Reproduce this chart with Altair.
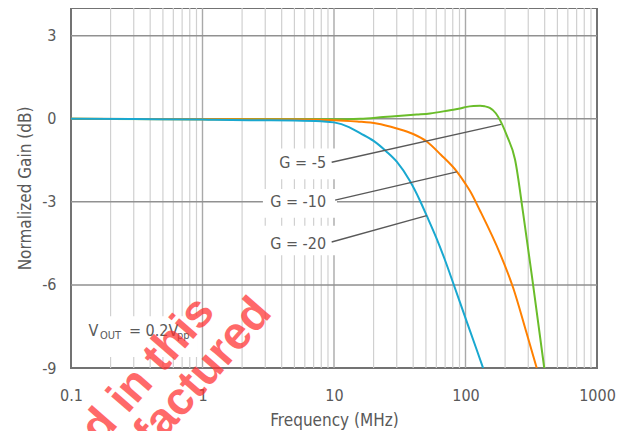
import altair as alt
import pandas as pd

FONT = "DejaVu Sans Condensed, Liberation Sans Narrow, DejaVu Sans, sans-serif"
TXT = "#595959"

# ---- data ----
series_names = ["G = -5", "G = -10", "G = -20"]
series_colors = ["#6abd2a", "#ff8000", "#19a8d0"]

f_g5 = [0.1, 1, 5, 10, 15.8, 23.7, 42.6, 53.7, 76.2, 90.8, 102, 115, 129, 140, 153, 170, 183, 206, 238, 275, 328, 397]
db_g5 = [0.0, -0.02, -0.02, -0.02, 0.0, 0.06, 0.15, 0.19, 0.31, 0.37, 0.43, 0.46, 0.47, 0.45, 0.39, 0.2, -0.05, -0.6, -1.47, -3.44, -6.06, -9.0]

f_g10 = [0.1, 1, 5, 10, 15, 21.1, 30, 40, 50.7, 65, 85.7, 100, 108, 129, 183, 231, 290, 348]
db_g10 = [0.0, -0.02, -0.03, -0.05, -0.1, -0.17, -0.35, -0.55, -0.82, -1.3, -1.9, -2.35, -2.6, -3.32, -4.87, -6.12, -7.7, -9.0]

f_g20 = [0.1, 0.3, 1, 2.3, 5, 8, 10, 13, 15.8, 20, 25, 30, 37.8, 45, 50.7, 60, 69.8, 80.7, 100, 120, 136]
db_g20 = [0.0, -0.01, -0.03, -0.05, -0.06, -0.09, -0.13, -0.3, -0.52, -0.8, -1.18, -1.55, -2.25, -2.95, -3.5, -4.3, -5.1, -5.94, -7.2, -8.26, -9.0]

x_ticks = [0.1, 1, 10, 100, 1000]
y_ticks = [-9, -6, -3, 0, 3]
y_grid = [-6, -3, 0, 3]
x_major = [1, 10, 100]
x_minor = [k * d for d in [0.1, 1, 10, 100] for k in range(2, 10)]

# annotation labels
lab_text = ["G = -5", "G = -10", "G = -20"]
lab_f = [8.7, 8.7, 8.7]
lab_db = [-1.60, -3.02, -4.51]
# leader lines (start, end)
lead_f1 = [9.6, 10.2, 9.6]
lead_db1 = [-1.57, -2.94, -4.45]
lead_f2 = [186, 85.7, 50.7]
lead_db2 = [-0.2, -1.92, -3.5]
# white label boxes
box_f1 = [3.1, 2.88, 2.88, 0.128]
box_f2 = [10.54, 10.54, 10.54, 0.92]
box_db1 = [-1.07, -2.54, -3.86, -7.13]
box_db2 = [-2.18, -3.57, -4.93, -8.6]

# V_OUT note pieces
note_text = ["V", "OUT", "= 0.2V", "pp"]
note_f = [0.1358, 0.1662, 0.276, 0.64]
note_db = [-7.846, -7.94, -7.846, -7.94]
note_size = [16, 11, 16, 11]

# watermark fragments
wm_text = ["d in this", "factured"]
wm_f = [0.385, 1.009]
wm_db = [-9.07, -9.18]

# ---- build ----
rows = []
for name, fs, dbs in [("G = -5", f_g5, db_g5), ("G = -10", f_g10, db_g10), ("G = -20", f_g20, db_g20)]:
    for f, d in zip(fs, dbs):
        rows.append({"g": name, "f": f, "db": d})
curves = pd.DataFrame(rows)

xs = alt.Scale(type="log", domain=[0.1, 1000], nice=False)
ys = alt.Scale(domain=[-9, 4], nice=False, zero=False)

xaxis = alt.Axis(values=x_ticks, format="~g", grid=False, domain=False, ticks=False, tickSize=0,
                 labelPadding=32, labelBaseline="alphabetic", labelFlush=False, labelFontSize=16,
                 titleFontSize=17, titleY=57, titleBaseline="alphabetic")
yaxis = alt.Axis(values=y_ticks, labelExpr="'' + datum.value", grid=False, domain=False, ticks=False,
                 tickSize=0, labelPadding=15, labelFontSize=16, titleFontSize=17,
                 titleX=-46, titleY=180, titleBaseline="middle", titleAngle=270)


def X(field):
    return alt.X(field, type="quantitative", scale=xs, axis=xaxis, title="Frequency (MHz)")


def Y(field):
    return alt.Y(field, type="quantitative", scale=ys, axis=yaxis, title="Normalized Gain (dB)")


minor = alt.Chart(pd.DataFrame({"f": x_minor})).mark_rule(color="#d0d0d0", strokeWidth=1.2).encode(
    x=X("f")
)

major = alt.Chart(pd.DataFrame({"f": x_major})).mark_rule(color="#a9a9a9", strokeWidth=1.4).encode(
    x=X("f")
)

ygrid = alt.Chart(pd.DataFrame({"g": y_grid})).mark_rule(color="#919191", strokeWidth=1.5).encode(
    y=Y("g")
)

boxes = alt.Chart(pd.DataFrame({"x1": box_f1, "x2": box_f2, "y1": box_db1, "y2": box_db2})).mark_rect(
    color="white").encode(
    x=X("x1"), x2="x2:Q", y=Y("y1"), y2="y2:Q"
)

lines = alt.Chart(curves).mark_line(strokeWidth=2, interpolate="monotone", clip=True).encode(
    x=X("f"), y=Y("db"),
    color=alt.Color("g:N", scale=alt.Scale(domain=series_names, range=series_colors), legend=None),
    detail="g:N",
)

leaders = alt.Chart(pd.DataFrame({"x1": lead_f1, "y1": lead_db1, "x2": lead_f2, "y2": lead_db2})).mark_rule(
    color="#595959", strokeWidth=1.3).encode(
    x=X("x1"), y=Y("y1"), x2="x2:Q", y2="y2:Q"
)

labels = alt.Chart(pd.DataFrame({"t": lab_text, "f": lab_f, "db": lab_db})).mark_text(
    align="right", baseline="middle", fontSize=16, font=FONT, color=TXT).encode(
    x=X("f"), y=Y("db"), text="t:N"
)

note = alt.Chart(pd.DataFrame({"t": note_text, "f": note_f, "db": note_db, "s": note_size})).mark_text(
    align="left", baseline="alphabetic", font=FONT, color=TXT).encode(
    x=X("f"), y=Y("db"), text="t:N",
    size=alt.Size("s:Q", scale=None, legend=None)
)

wm = alt.Chart(pd.DataFrame({"t": wm_text, "f": wm_f, "db": wm_db})).mark_text(
    align="center", baseline="middle", angle=311, fontSize=46, fontWeight="bold",
    font="Liberation Sans, Arial, sans-serif", color="#ff3030", opacity=0.72).encode(
    x=X("f"), y=Y("db"), text="t:N"
)

chart = alt.layer(minor, major, ygrid, boxes, lines, leaders, labels, note, wm).properties(
    width=526, height=360,
    autosize=alt.AutoSizeParams(type="none"),
    padding={"left": 63, "top": 0, "right": 23, "bottom": 63},
    background="white",
).configure_view(
    stroke="#737373", strokeWidth=2
).configure_axis(
    labelFont=FONT, titleFont=FONT, labelColor=TXT, titleColor=TXT, titleFontWeight="normal"
)

chart.save("out.html", embed_options={"renderer": "svg", "actions": False})
